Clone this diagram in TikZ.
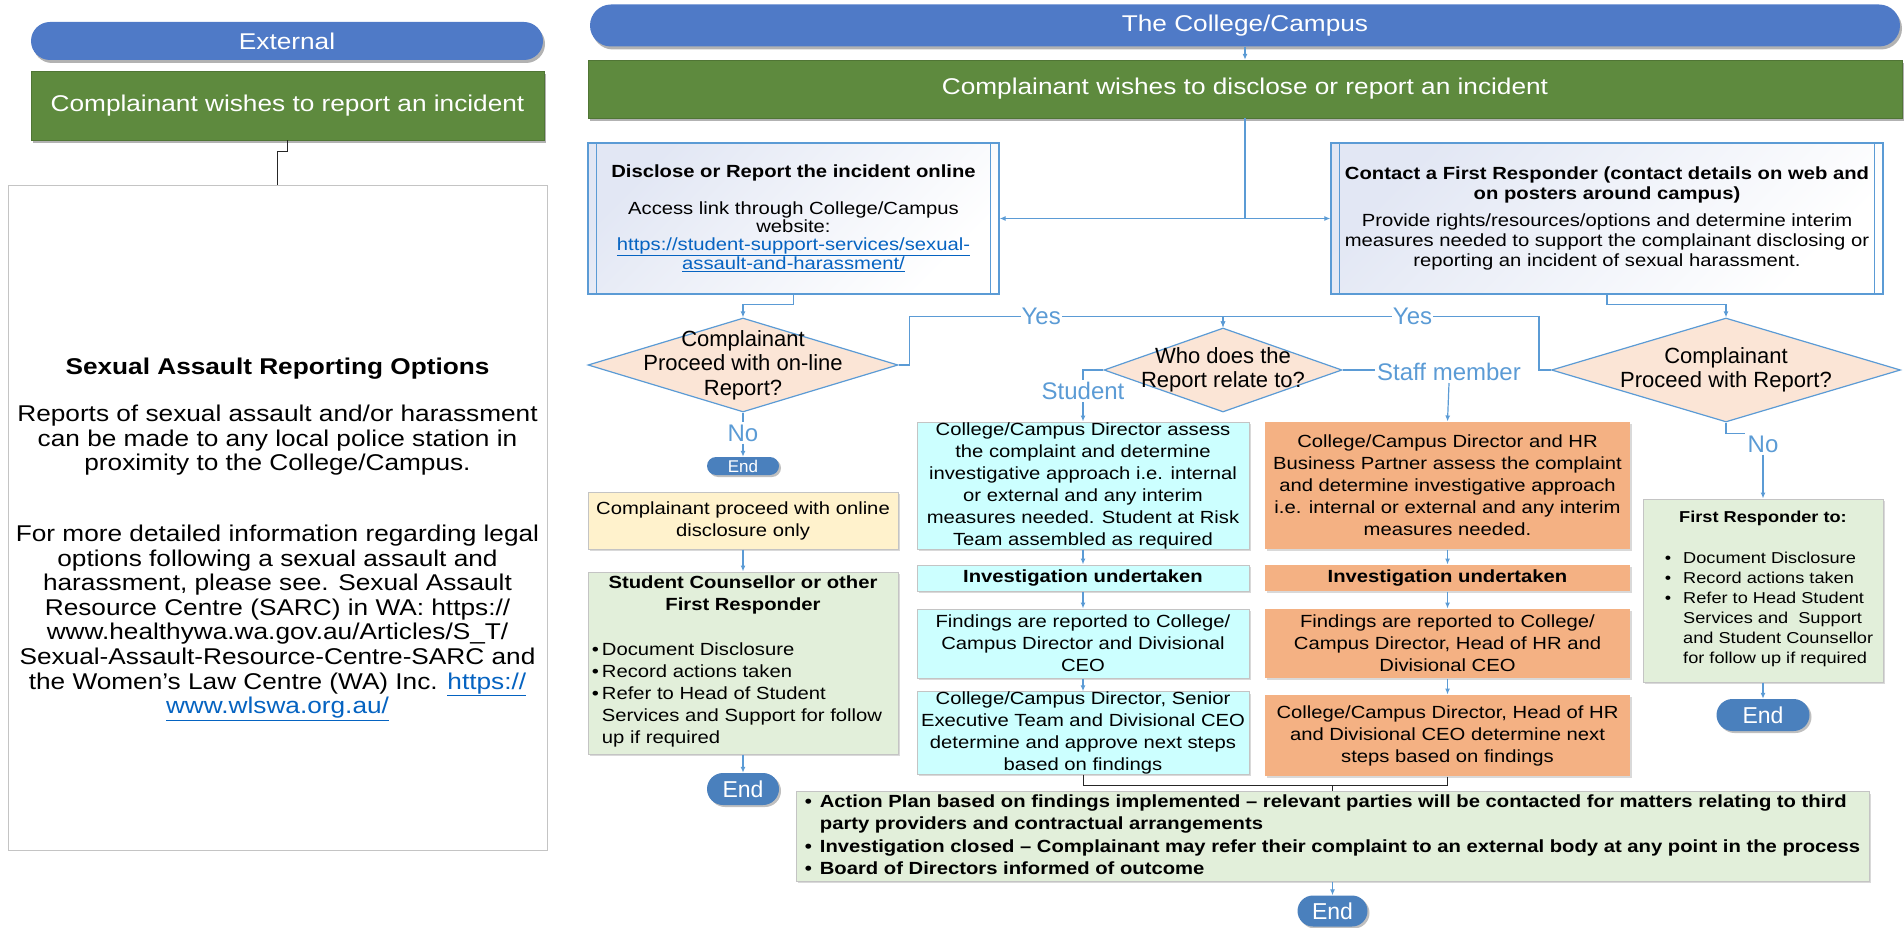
\documentclass[tikz,border=0pt]{standalone}
\usepackage{fontspec}
\setmainfont{Liberation Sans}
\newfontfamily\wfont[FakeStretch=1.15]{Liberation Sans}
\usepackage{xcolor}
\usepackage{tikz}
\usetikzlibrary{shapes.geometric,shadows,arrows.meta}

\definecolor{pillblue}{HTML}{4F7AC7}
\definecolor{hdrgreen}{HTML}{5E8A3E}
\definecolor{flowblue}{HTML}{5B9BD5}
\definecolor{endblue}{HTML}{4A80BD}
\definecolor{peach}{HTML}{FBE5D6}
\definecolor{lightgreen}{HTML}{E2EFDA}
\definecolor{lightyellow}{HTML}{FFF2CC}
\definecolor{lightcyan}{HTML}{CCFFFF}
\definecolor{salmon}{HTML}{F4B183}
\definecolor{procfill}{HTML}{E2E7F4}
\definecolor{weblink}{HTML}{0563C1}
\definecolor{boxgray}{HTML}{C4C4C4}

\newcommand{\setfs}[2]{\fontsize{#1}{#2}\selectfont}
\newcommand{\weblnk}[1]{\textcolor{weblink}{\underline{#1}}}

\begin{document}
\begin{tikzpicture}[x=1pt,y=-1pt,
  pill/.style={fill=pillblue, text=white, rounded corners=19pt, inner sep=0pt,
    drop shadow={shadow xshift=2pt,shadow yshift=-3pt,fill=black,opacity=.3},
    font={\wfont\setfs{22.8}{24}}},
  header/.style={fill=hdrgreen, draw=hdrgreen!85!black, text=white, inner sep=0pt,
    drop shadow={shadow xshift=2pt,shadow yshift=-3pt,fill=black,opacity=.3},
    font={\wfont\setfs{22.8}{24}}},
  infobox/.style={draw=boxgray, line width=1pt, inner sep=0pt},
  infotext/.style={align=center, inner sep=0pt, font={\wfont\setfs{22.8}{24.6}}},
  procbox/.style={draw=flowblue, line width=1.3pt, top color=procfill, bottom color=white,
    shading angle=45, inner sep=0pt, align=center, font={\wfont\setfs{17.6}{18}}},
  stepbox/.style={draw=boxgray, line width=1pt, inner sep=0pt, align=center,
    drop shadow={shadow xshift=2pt,shadow yshift=-2pt,fill=black,opacity=.15},
    font={\wfont\setfs{17.6}{22}}},
  decision/.style={diamond, draw=flowblue, line width=1.2pt, fill=peach, inner sep=0pt},
  dtext/.style={align=center, inner sep=0pt, font={\setfs{22}{24.5}}},
  endpill/.style={fill=endblue, text=white, rounded corners=16pt, inner sep=0pt,
    drop shadow={shadow xshift=2pt,shadow yshift=-2pt,fill=black,opacity=.25},
    font={\setfs{23}{23}}},
  lbl/.style={text=flowblue, inner sep=2pt, font={\setfs{24}{24}}},
  yes/.style={lbl, fill=white, inner sep=1pt},
  conn/.style={draw=flowblue, line width=1.2pt},
  flow/.style={conn, -{Latex[length=6pt,width=5pt]}},
  blk/.style={draw=black!85, line width=1pt}]

\useasboundingbox (0,0) rectangle (1904,928);

% external side
\node[pill, minimum width=512pt, minimum height=38pt] (ext) at (287,41) {External};
\node[header, minimum width=513pt, minimum height=69pt] (exthdr) at (287.5,105.5) {Complainant wishes to report an incident};
\node[infobox, minimum width=539pt, minimum height=664pt] (info) at (277.5,518) {};
\node[infotext] (infot) at (277.5,539) {%
\textbf{Sexual Assault Reporting Options}\\[23pt]
Reports of sexual assault and/or harassment\\
can be made to any local police station in\\
proximity to the College/Campus.\\[46pt]
For more detailed information regarding legal\\
options following a sexual assault and\\
harassment, please see. Sexual Assault\\
Resource Centre (SARC) in WA: https://\\
www.healthywa.wa.gov.au/Articles/S\_T/\\
Sexual-Assault-Resource-Centre-SARC and\\
the Women’s Law Centre (WA) Inc. \weblnk{https://}\\
\weblnk{www.wlswa.org.au/}};
\draw[blk] (exthdr.south) -- ++(0,11) -| (info.north);

% college side, top
\node[pill, rounded corners=21pt, minimum width=1310pt, minimum height=42pt] (col) at (1245,25.5) {The College/Campus};
\node[header, minimum width=1314pt, minimum height=58pt] (colhdr) at (1245,89) {Complainant wishes to disclose or report an incident};

\node[procbox, minimum width=411pt, minimum height=151pt] (onl) at (793.5,218.5) {%
\textbf{Disclose or Report the incident online}\\[19pt]
Access link through College/Campus\\
website:\\
\weblnk{https://student-support-services/sexual-}\\
\weblnk{assault-and-harassment/}};
\node[procbox, minimum width=552pt, minimum height=151pt, font={\wfont\setfs{17.6}{20}}] (fr) at (1607,218.5) {%
\textbf{Contact a First Responder (contact details on web and}\\
\textbf{on posters around campus)}\\[7pt]
Provide rights/resources/options and determine interim\\
measures needed to support the complainant disclosing or\\
reporting an incident of sexual harassment.};
\foreach \b in {onl,fr}{
  \draw[conn] ([xshift=9pt]\b.north west) -- ([xshift=9pt]\b.south west);
  \draw[conn] ([xshift=-9pt]\b.north east) -- ([xshift=-9pt]\b.south east);
}
\draw[flow] (colhdr.south) |- (onl.east);
\draw[flow] (colhdr.south) |- (fr.west);

% decisions
\node[decision, minimum width=310pt, minimum height=94pt] (d1) at (743,365) {};
\node[dtext] (d1t) at (d1) {Complainant\\Proceed with on-line\\Report?};
\node[decision, minimum width=238pt, minimum height=84pt] (who) at (1223,370) {};
\node[dtext] (whot) at (who) {Who does the\\Report relate to?};
\node[decision, minimum width=349pt, minimum height=104pt] (d3) at (1726,370) {};
\node[dtext] (d3t) at (d3) {Complainant\\Proceed with Report?};

\draw[flow] (onl.south) -- ++(0,10) -| (d1.north);
\draw[flow] (fr.south) -- ++(0,10) -| (d3.north);
\coordinate (wtop) at ([yshift=11pt]who.north);
\draw[flow] (d1.east) -- ++(11,0) |- node[yes, pos=.71] (yes1) {Yes} (wtop) -- (who.north);
\draw[flow] (d3.west) -- ++(-12,0) |- node[yes, pos=.70] (yes2) {Yes} (wtop) -- (who.north);

% left branch
\node[lbl] (no1) at (743,433) {No};
\node[endpill, rounded corners=9pt, minimum width=72pt, minimum height=18pt, font={\setfs{17}{17}}] (end1) at (743,466) {End};
\draw[conn] (d1.south) -- (no1.north);
\draw[flow] (no1.south) -- (end1.north);
\node[stepbox, fill=lightyellow, minimum width=310pt, minimum height=57pt] (yel) at (743,520.5) {Complainant proceed with online\\disclosure only};
\node[stepbox, fill=lightgreen, minimum width=310pt, minimum height=182pt] (sc) at (743,663) {%
\textbf{Student Counsellor or other}\\\textbf{First Responder}\\[23pt]
\hspace*{-12pt}\begin{tabular}[t]{@{}l@{\hspace{3pt}}l@{}}
\textbullet & Document Disclosure\\
\textbullet & Record actions taken\\
\textbullet & Refer to Head of Student\\
 & Services and Support for follow\\
 & up if required
\end{tabular}};
\node[endpill, minimum width=72pt, minimum height=32pt] (end2) at (743,789) {End};

% student / staff
\node[lbl] (stud) at (1083,391) {Student};
\node[lbl] (staff) at (1449,372) {Staff member};
\draw[conn] (who.west) -| (stud.north);
\draw[conn] (who.east) -- (who.east -| staff.west);

\node[stepbox, fill=lightcyan, minimum width=332pt, minimum height=127pt] (cy1) at (1083,485.5) {%
College/Campus Director assess\\the complaint and determine\\investigative approach i.e. internal\\or external and any interim\\measures needed. Student at Risk\\Team assembled as required};
\node[stepbox, fill=lightcyan, minimum width=332pt, minimum height=26pt] (cy2) at (1083,578) {\textbf{Investigation undertaken}};
\node[stepbox, fill=lightcyan, minimum width=332pt, minimum height=69pt] (cy3) at (1083,643.5) {%
Findings are reported to College/\\Campus Director and Divisional\\CEO};
\node[stepbox, fill=lightcyan, minimum width=332pt, minimum height=80pt] (cy4) at (1083,733) {%
College/Campus Director, Senior\\Executive Team and Divisional CEO\\determine and approve next steps\\based on findings};

\node[stepbox, draw=none, fill=salmon, minimum width=365pt, minimum height=127pt] (or1) at (1447.5,485.5) {%
College/Campus Director and HR\\Business Partner assess the complaint\\and determine investigative approach\\i.e. internal or external and any interim\\measures needed.};
\node[stepbox, draw=none, fill=salmon, minimum width=365pt, minimum height=26pt] (or2) at (1447.5,578) {\textbf{Investigation undertaken}};
\node[stepbox, draw=none, fill=salmon, minimum width=365pt, minimum height=69pt] (or3) at (1447.5,643.5) {%
Findings are reported to College/\\Campus Director, Head of HR and\\Divisional CEO};
\node[stepbox, draw=none, fill=salmon, minimum width=365pt, minimum height=81pt] (or4) at (1447.5,735.5) {%
College/Campus Director, Head of HR\\and Divisional CEO determine next\\steps based on findings};

\draw[flow] (stud.south) -- (cy1.north);
\draw[flow] (staff.south) -- (or1.north);

% right branch
\node[lbl] (no2) at (1763,444) {No};
\draw[conn] (d3.south) |- (no2.north west);
\node[stepbox, fill=lightgreen, minimum width=240pt, minimum height=183pt, font={\wfont\setfs{15.8}{20}}] (fr2) at (1763,590.5) {%
\textbf{First Responder to:}\\[21pt]
\hspace*{12pt}\begin{tabular}[t]{@{}l@{\hspace{12pt}}l@{}}
\textbullet & Document Disclosure\\
\textbullet & Record actions taken\\
\textbullet & Refer to Head Student\\
 & Services and \ Support\\
 & and Student Counsellor\\
 & for follow up if required
\end{tabular}};
\node[endpill, minimum width=93pt, minimum height=32pt] (end3) at (1763,715) {End};
\draw[flow] (no2.south) -- (fr2.north);

% outcome
\node[stepbox, fill=lightgreen, minimum width=1073pt, minimum height=87pt, font={\wfont\bfseries\setfs{17.6}{22.3}}] (act) at (1332.5,836.5) {%
\begin{tabular}{@{}l@{\hspace{8pt}}l@{}}
\textbullet & Action Plan based on findings implemented – relevant parties will be contacted for matters relating to third\\
 & party providers and contractual arrangements\\
\textbullet & Investigation closed – Complainant may refer their complaint to an external body at any point in the process\\
\textbullet & Board of Directors informed of outcome
\end{tabular}};
\node[endpill, rounded corners=15.5pt, minimum width=70pt, minimum height=31pt] (end4) at (1332.5,911) {End};

\coordinate (join) at (1332.5,785);
\draw[blk] (cy4.south) |- (join);
\draw[blk] (or4.south) |- (join) -- (act.north);

\foreach \a/\b in {col/colhdr,yel/sc,sc/end2,cy1/cy2,cy2/cy3,cy3/cy4,or1/or2,or2/or3,or3/or4,fr2/end3,act/end4}
  \draw[flow] (\a.south) -- (\b.north);
\end{tikzpicture}
\end{document}
